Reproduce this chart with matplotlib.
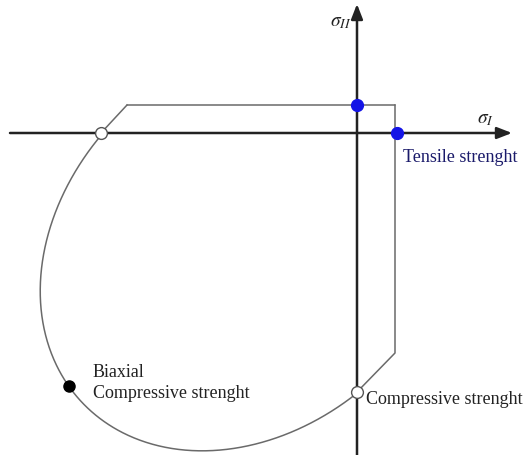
import numpy as np
import matplotlib
matplotlib.use("Agg")
import matplotlib.pyplot as plt

# ---- data (units: stress, origin at axis crossing) ----
tensile_strength = 40.0          # on sigma_I axis
tensile_sigma2 = 28.0            # blue point on sigma_II axis
compressive_strength = -259.0    # open circle on sigma_II axis
biaxial_point = (-288.0, -253.0)
left_open_point = (-256.0, 0.0)

# straight pieces of the envelope
top_line_x = [-230.0, 38.0]
top_line_y = [28.0, 28.0]
right_line_x = [38.0, 38.0, 0.0]
right_line_y = [28.0, -220.0, compressive_strength]
diag_left_x = [-230.0, -256.0]
diag_left_y = [28.0, 0.0]

# curved part of the envelope
curve_x = [-256, -274, -294, -307, -314, -318, -316, -309, -297, -288, -267,
           -217, -150, -107, -57, -24, 0]
curve_y = [0, -29, -63, -96, -129, -156, -183, -213, -236, -253, -279,
           -306, -317, -313, -296, -278, -259]

labels = {
    "tensile": "Tensile strenght",
    "compressive": "Compressive strenght",
    "biaxial": "Biaxial\nCompressive strenght",
}

# ---- least-squares ellipse through the read curve points ----
s = 300.0
X = np.asarray(curve_x, float) / s
Y = np.asarray(curve_y, float) / s
Dm = np.column_stack([X * X, X * Y, Y * Y, X, Y, np.ones_like(X)])
_, _, vt = np.linalg.svd(Dm)
A, B, C, D, E, F = vt[-1]
cx, cy = np.linalg.solve([[2 * A, B], [B, 2 * C]], [-D, -E])
Fp = F + (D * cx + E * cy) / 2.0
M = np.array([[A, B / 2], [B / 2, C]])
lam, vec = np.linalg.eigh(M)
if np.linalg.det(vec) < 0:
    vec[:, 1] *= -1
ea = np.sqrt(-Fp / lam[0])
eb = np.sqrt(-Fp / lam[1])


def angle_of(px, py):
    loc = vec.T @ np.array([px / s - cx, py / s - cy])
    return np.arctan2(loc[1] / eb, loc[0] / ea)


t0 = angle_of(curve_x[0], curve_y[0])
t1 = angle_of(curve_x[-1], curve_y[-1])
while t1 <= t0:
    t1 += 2 * np.pi
t = np.linspace(t0, t1, 600)
loc = np.vstack([ea * np.cos(t), eb * np.sin(t)])
xy = vec @ loc
arc_x = (xy[0] + cx) * s
arc_y = (xy[1] + cy) * s

# biaxial point placed on the fitted envelope (nearest sample)
k = np.argmin((arc_x - biaxial_point[0]) ** 2 + (arc_y - biaxial_point[1]) ** 2)
bx, by = arc_x[k], arc_y[k]

arc_x = np.concatenate([[curve_x[0]], arc_x, [curve_x[-1]]])
arc_y = np.concatenate([[curve_y[0]], arc_y, [curve_y[-1]]])

# ---- figure ----
fig = plt.figure(figsize=(5.24, 4.56), dpi=100)
ax = fig.add_axes([0, 0, 1, 1])
ax.set_xlim(-357, 167)
ax.set_ylim(-322, 134)
ax.axis("off")

serif = ["Liberation Serif", "DejaVu Serif"]

# axes with arrows
ax.annotate("", xy=(155, 0), xytext=(-347, 0),
            arrowprops=dict(arrowstyle="-|>,head_length=0.9,head_width=0.35",
                            color="#222222", lw=1.8, shrinkA=0, shrinkB=0))
ax.annotate("", xy=(0, 129), xytext=(0, -322),
            arrowprops=dict(arrowstyle="-|>,head_length=0.9,head_width=0.35",
                            color="#222222", lw=1.8, shrinkA=0, shrinkB=0))

env_color = "#6a6a6a"
env_lw = 1.1

ax.plot(top_line_x, top_line_y, color=env_color, lw=env_lw, solid_capstyle="round")
ax.plot(right_line_x, right_line_y, color=env_color, lw=env_lw, solid_joinstyle="round")
ax.plot(diag_left_x, diag_left_y, color=env_color, lw=env_lw)
ax.plot(arc_x, arc_y, color=env_color, lw=env_lw)

# points
ax.plot([0, tensile_strength], [tensile_sigma2, 0], "o", color="#1414e6",
        markersize=8.5, zorder=5)
ax.plot([left_open_point[0], 0], [left_open_point[1], compressive_strength], "o",
        mfc="white", mec="#555555", mew=1.0, markersize=8.5, zorder=5)
ax.plot([bx], [by], "o", color="black", markersize=8, zorder=5)

# labels
ax.text(-27, 112, r"$\sigma_{II}$", fontsize=14, family=serif,
        ha="left", va="center", color="#222222", math_fontfamily="stix")
ax.text(120, 14, r"$\sigma_{I}$", fontsize=14, family=serif,
        ha="left", va="center", color="#222222", math_fontfamily="stix")
ax.text(46, -23, labels["tensile"], fontsize=13, family=serif,
        ha="left", va="center", color="#1a1a6a")
ax.text(9, -266, labels["compressive"], fontsize=13, family=serif,
        ha="left", va="center", color="#222222")
ax.text(-264, -249, labels["biaxial"], fontsize=13, family=serif,
        ha="left", va="center", color="#222222", linespacing=1.3)

fig.savefig("out.png", dpi=100)
